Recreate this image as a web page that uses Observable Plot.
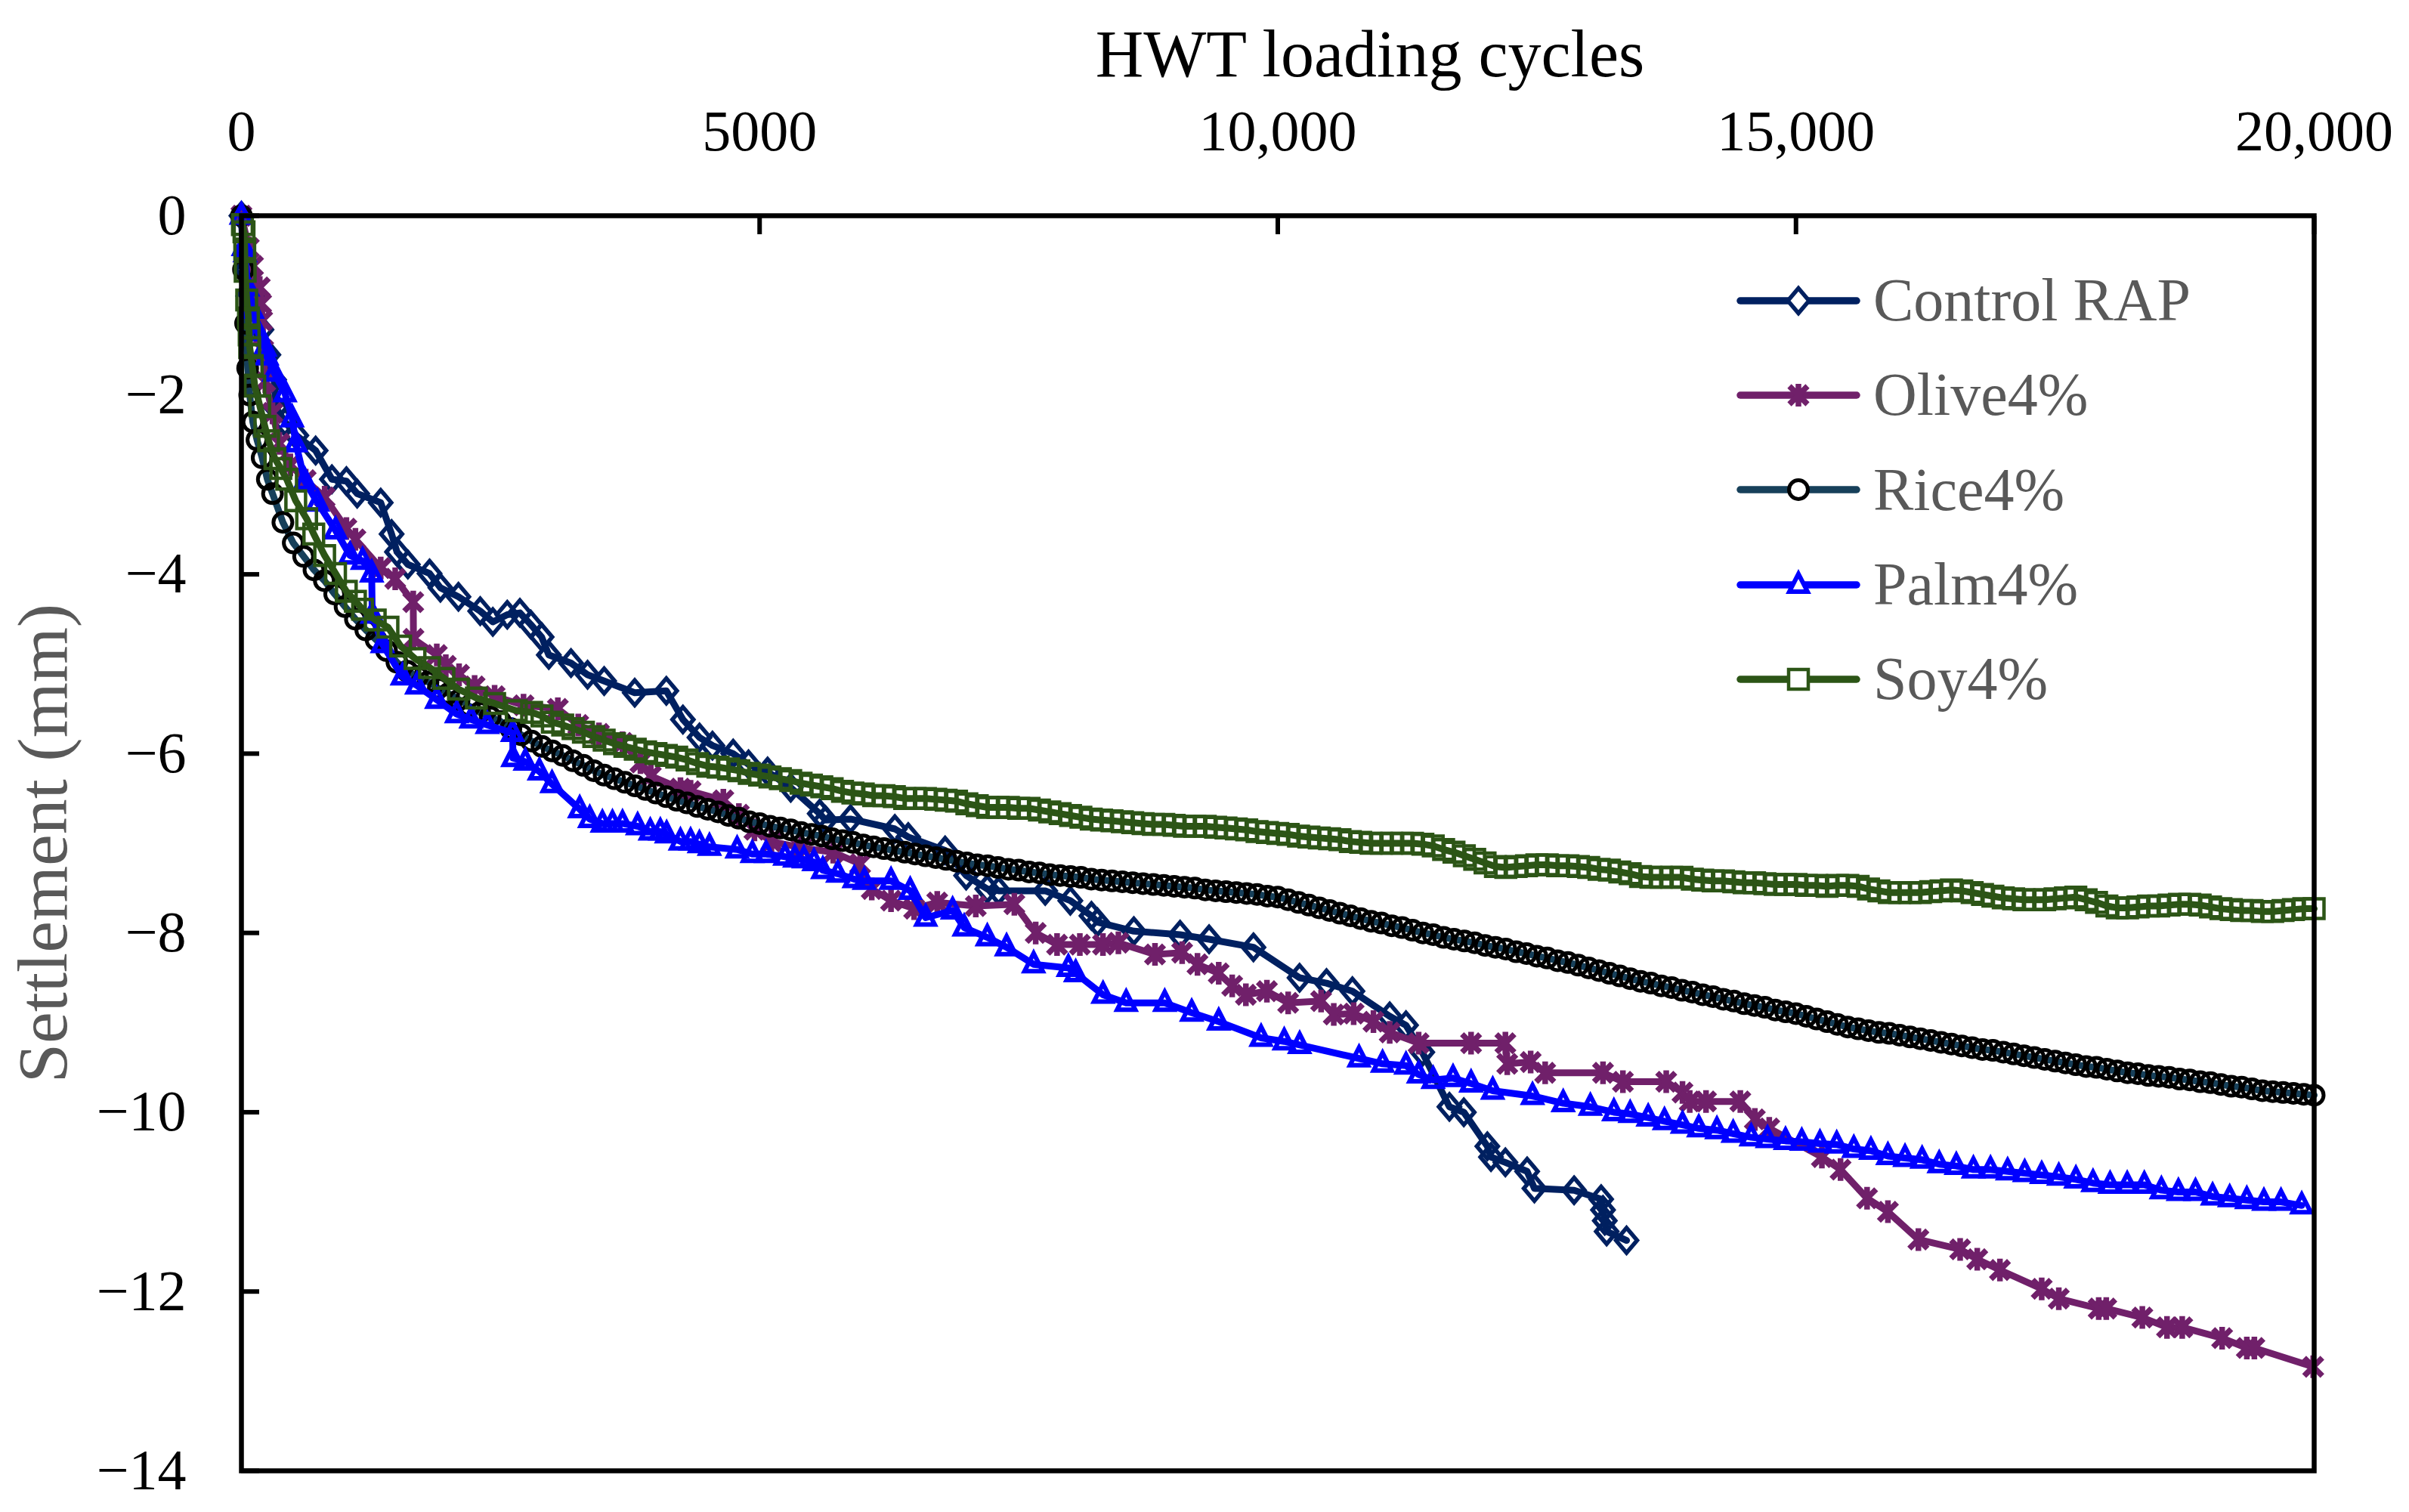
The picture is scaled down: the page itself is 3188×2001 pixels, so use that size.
<!DOCTYPE html>
<html><head><meta charset="utf-8">
<script src="https://cdn.jsdelivr.net/npm/d3@7"></script>
<script src="https://cdn.jsdelivr.net/npm/@observablehq/plot@0.6"></script>
<style>
html,body{margin:0;padding:0;background:#fff;}
#wrap{position:relative;width:3188px;height:2001px;overflow:hidden;}
#legend{position:absolute;left:2299px;top:335px;font-family:'Liberation Serif','DejaVu Serif',serif;font-size:80px;color:#595959;}
.row{display:flex;align-items:center;height:125.3px;}
.row span{margin-left:18px;white-space:nowrap;}
</style></head><body><div id="wrap"></div>
<script>
// ---------- data ----------
const xTickValues = [0, 5000, 10000, 15000, 20000];
const yTickValues = [0, -2, -4, -6, -8, -10, -12, -14];
const xLabel = "HWT loading cycles";
const yLabel = "Settlement (mm)";
const seriesNames = ["Control RAP", "Olive4%", "Rice4%", "Palm4%", "Soy4%"];

const controlCycles = [0,50,100,193,260,315,333,420,530,716,873,1013,1117,1344,1449,1501,1606,1815,1920,2094,2304,2426,2565,2687,2792,2897,2966,3180,3340,3500,3795,4100,4260,4420,4545,4745,4893,5077,5300,5580,5635,5877,6305,6434,6790,6993,7197,7306,7756,7998,8202,8260,8611,9057,9337,9765,10210,10470,10720,11080,11237,11394,11656,11795,12022,12057,12196,12406,12476,12859,13120,13138,13155,13173,13365];
const controlSettlement = [0,-0.6,-0.9,-1.27,-1.55,-1.83,-2.14,-2.3,-2.45,-2.62,-2.94,-2.96,-3.10,-3.20,-3.55,-3.75,-3.89,-3.99,-4.15,-4.25,-4.41,-4.53,-4.45,-4.43,-4.56,-4.70,-4.90,-4.99,-5.12,-5.19,-5.32,-5.30,-5.62,-5.82,-5.91,-6.00,-6.12,-6.20,-6.38,-6.67,-6.74,-6.73,-6.84,-6.93,-7.08,-7.36,-7.51,-7.53,-7.53,-7.64,-7.81,-7.88,-7.98,-8.02,-8.07,-8.16,-8.50,-8.56,-8.65,-8.93,-9.03,-9.33,-9.94,-10.00,-10.38,-10.50,-10.56,-10.66,-10.85,-10.87,-10.97,-11.09,-11.21,-11.33,-11.43];

const oliveCycles = [0,71,112,177,190,200,210,230,300,367,472,620,803,1013,1100,1344,1484,1658,1660,1885,1972,2100,2250,2443,2722,3053,3250,3450,3677,3850,3950,4236,4334,4650,4800,4950,5114,5400,5710,5970,6082,6268,6491,6714,7086,7458,7664,7870,8090,8313,8462,8815,9077,9225,9430,9560,9692,9895,10100,10418,10540,10732,10923,11080,11359,11865,12196,12214,12440,12580,13138,13330,13748,13905,13975,14132,14463,14603,14742,15250,15430,15686,15887,16181,16584,16749,16968,17371,17536,17921,17994,18342,18580,18727,19112,19350,19423,19991];
const oliveSettlement = [0,-0.36,-0.56,-0.80,-0.98,-1.17,-1.5,-1.85,-2.2,-2.54,-2.78,-2.95,-3.14,-3.49,-3.61,-3.93,-4.05,-4.31,-4.72,-4.90,-5.02,-5.12,-5.25,-5.36,-5.46,-5.50,-5.68,-5.78,-5.88,-6.10,-6.25,-6.39,-6.42,-6.52,-6.68,-6.85,-6.98,-7.05,-7.10,-7.23,-7.51,-7.64,-7.73,-7.66,-7.70,-7.68,-8.00,-8.13,-8.13,-8.13,-8.11,-8.24,-8.22,-8.35,-8.45,-8.59,-8.69,-8.65,-8.78,-8.76,-8.91,-8.90,-8.99,-9.11,-9.23,-9.23,-9.23,-9.46,-9.44,-9.56,-9.56,-9.66,-9.66,-9.78,-9.88,-9.88,-9.88,-10.08,-10.18,-10.50,-10.64,-10.96,-11.11,-11.42,-11.53,-11.64,-11.76,-11.97,-12.08,-12.19,-12.19,-12.29,-12.40,-12.40,-12.52,-12.63,-12.63,-12.84];

const riceEarlyCycles = [0,20,40,60,80,110,150,200,250,300];
const riceEarlySettlement = [0,-0.6,-1.2,-1.7,-2.0,-2.3,-2.5,-2.7,-2.94,-3.1];
// readings every 100 cycles from 400 to 20,000
const riceSettlement100 = [
-3.42,-3.65,-3.80,-3.95,-4.07,-4.22,-4.36,-4.50,-4.62,-4.73,
-4.85,-4.98,-5.08,-5.14,-5.20,-5.27,-5.33,-5.40,-5.47,-5.54,
-5.59,-5.64,-5.72,-5.79,-5.86,-5.92,-5.97,-6.02,-6.08,-6.13,
-6.19,-6.24,-6.28,-6.32,-6.36,-6.40,-6.44,-6.48,-6.52,-6.55,
-6.59,-6.62,-6.65,-6.69,-6.72,-6.76,-6.78,-6.81,-6.83,-6.85,
-6.88,-6.90,-6.92,-6.95,-6.97,-6.99,-7.02,-7.04,-7.06,-7.08,
-7.10,-7.12,-7.14,-7.16,-7.18,-7.20,-7.22,-7.24,-7.25,-7.27,
-7.29,-7.30,-7.32,-7.33,-7.35,-7.36,-7.37,-7.38,-7.40,-7.41,
-7.42,-7.43,-7.44,-7.45,-7.46,-7.47,-7.48,-7.49,-7.50,-7.52,
-7.53,-7.54,-7.55,-7.56,-7.57,-7.59,-7.60,-7.63,-7.66,-7.69,
-7.72,-7.75,-7.78,-7.81,-7.84,-7.87,-7.89,-7.92,-7.94,-7.97,
-8.00,-8.02,-8.05,-8.07,-8.09,-8.11,-8.14,-8.16,-8.18,-8.21,
-8.23,-8.26,-8.28,-8.31,-8.33,-8.36,-8.39,-8.42,-8.45,-8.48,
-8.51,-8.54,-8.56,-8.59,-8.61,-8.64,-8.66,-8.69,-8.71,-8.74,
-8.76,-8.79,-8.81,-8.83,-8.86,-8.88,-8.90,-8.93,-8.96,-8.99,
-9.02,-9.05,-9.07,-9.09,-9.11,-9.12,-9.14,-9.16,-9.18,-9.20,
-9.22,-9.24,-9.26,-9.28,-9.30,-9.31,-9.33,-9.35,-9.37,-9.39,
-9.41,-9.43,-9.45,-9.47,-9.49,-9.50,-9.52,-9.54,-9.56,-9.57,
-9.59,-9.60,-9.61,-9.63,-9.64,-9.66,-9.67,-9.69,-9.71,-9.72,
-9.74,-9.76,-9.77,-9.78,-9.79,-9.80,-9.81];

const palmCycles = [0,20,36,60,104,160,226,245,315,420,489,525,612,734,908,1048,1169,1257,1262,1361,1553,1693,1885,2077,2216,2373,2617,2620,2739,2875,2997,3264,3361,3483,3580,3677,3823,3945,4042,4103,4236,4334,4419,4516,4783,4929,5062,5245,5340,5427,5525,5610,5755,5913,6011,6268,6453,6602,6862,6974,7197,7383,7644,7979,8050,8314,8537,8909,9169,9430,9839,10062,10211,10784,11011,11237,11359,11499,11691,11865,12074,12458,12754,13016,13243,13400,13574,13731,13905,14062,14237,14394,14568,14725,14899,15056,15231,15393,15558,15723,15887,16052,16217,16382,16547,16712,16877,17042,17207,17371,17536,17701,17866,18031,18196,18361,18526,18690,18855,19020,19185,19350,19515,19680,19880];
const palmSettlement = [0,-0.35,-0.42,-0.8,-1.05,-1.3,-1.47,-1.57,-1.75,-1.98,-2.26,-2.54,-2.96,-3.20,-3.51,-3.79,-3.85,-3.99,-4.45,-4.78,-5.14,-5.24,-5.40,-5.56,-5.62,-5.68,-5.77,-6.05,-6.09,-6.20,-6.34,-6.62,-6.73,-6.78,-6.78,-6.78,-6.81,-6.87,-6.87,-6.90,-6.98,-6.98,-7.01,-7.04,-7.07,-7.12,-7.12,-7.15,-7.17,-7.18,-7.21,-7.30,-7.34,-7.40,-7.42,-7.42,-7.53,-7.83,-7.75,-7.94,-8.05,-8.16,-8.35,-8.39,-8.45,-8.69,-8.78,-8.78,-8.89,-8.99,-9.17,-9.21,-9.25,-9.40,-9.46,-9.48,-9.58,-9.64,-9.62,-9.68,-9.76,-9.82,-9.90,-9.94,-10.00,-10.02,-10.06,-10.10,-10.14,-10.18,-10.20,-10.24,-10.28,-10.30,-10.32,-10.33,-10.35,-10.36,-10.41,-10.43,-10.49,-10.51,-10.53,-10.58,-10.60,-10.64,-10.64,-10.66,-10.68,-10.70,-10.72,-10.75,-10.79,-10.81,-10.81,-10.81,-10.87,-10.89,-10.89,-10.94,-10.96,-10.98,-11.00,-11.00,-11.04];

const soyEarlyCycles = [10,25,32,36,51,68,75,80,104,129,177,226,262,323,380,437,524,629,698,803,908,1012,1100,1169,1291,1414,1536,1675,1815,1954,2094,2267,2443,2652];
const soyEarlySettlement = [-0.1,-0.18,-0.37,-0.62,-0.94,-1.14,-1.33,-1.47,-1.67,-1.90,-2.12,-2.35,-2.51,-2.71,-2.82,-2.94,-3.18,-3.38,-3.55,-3.79,-3.99,-4.19,-4.30,-4.39,-4.51,-4.59,-4.80,-4.94,-5.04,-5.16,-5.28,-5.38,-5.44,-5.52];
// readings every 100 cycles from 2800 to 20,000
const soySettlement100 = [
-5.54,-5.58,-5.65,-5.68,-5.72,-5.76,-5.81,-5.85,-5.89,-5.92,
-5.95,-5.98,-6.00,-6.02,-6.04,-6.07,-6.11,-6.14,-6.15,-6.17,
-6.19,-6.22,-6.24,-6.26,-6.28,-6.30,-6.33,-6.35,-6.37,-6.39,
-6.42,-6.44,-6.45,-6.47,-6.47,-6.48,-6.50,-6.50,-6.50,-6.51,
-6.52,-6.53,-6.56,-6.58,-6.60,-6.60,-6.60,-6.61,-6.61,-6.63,
-6.65,-6.67,-6.69,-6.71,-6.73,-6.74,-6.75,-6.76,-6.77,-6.78,
-6.79,-6.79,-6.80,-6.81,-6.81,-6.81,-6.82,-6.83,-6.84,-6.85,
-6.87,-6.88,-6.89,-6.90,-6.92,-6.93,-6.94,-6.95,-6.96,-6.98,
-6.99,-7.00,-7.00,-7.00,-7.00,-7.00,-7.01,-7.03,-7.07,-7.10,
-7.14,-7.18,-7.22,-7.26,-7.27,-7.26,-7.25,-7.24,-7.24,-7.25,
-7.25,-7.26,-7.27,-7.29,-7.30,-7.32,-7.34,-7.37,-7.38,-7.38,
-7.38,-7.38,-7.40,-7.41,-7.42,-7.42,-7.43,-7.44,-7.44,-7.45,
-7.46,-7.46,-7.46,-7.47,-7.47,-7.48,-7.47,-7.47,-7.48,-7.51,
-7.53,-7.55,-7.55,-7.55,-7.55,-7.54,-7.53,-7.52,-7.53,-7.55,
-7.57,-7.59,-7.61,-7.62,-7.63,-7.63,-7.63,-7.62,-7.61,-7.60,
-7.63,-7.66,-7.70,-7.72,-7.72,-7.71,-7.70,-7.70,-7.69,-7.68,
-7.68,-7.69,-7.71,-7.73,-7.74,-7.75,-7.75,-7.76,-7.76,-7.75,
-7.74,-7.73,-7.73];

// ---------- build tables ----------
const riceCycles = [...riceEarlyCycles, ...d3.range(400, 20001, 100)];
const riceSettlement = [...riceEarlySettlement, ...riceSettlement100];
const soyCycles = [...soyEarlyCycles, ...d3.range(2800, 20001, 100)];
const soySettlement = [...soyEarlySettlement, ...soySettlement100];

const toRows = (cs, ss) => cs.map((c, i) => ({c, s: ss[i]})).filter(d => d.s !== undefined);

// ---------- marker shapes ----------
const symDiamond = {draw(c){c.moveTo(0,-16.5);c.lineTo(14,0);c.lineTo(0,16.5);c.lineTo(-14,0);c.closePath();}};
const symStar = {draw(c){c.moveTo(-12,-12);c.lineTo(12,12);c.moveTo(12,-12);c.lineTo(-12,12);c.moveTo(0,-15);c.lineTo(0,15);}};
const symCircle = {draw(c){c.moveTo(12.5,0);c.arc(0,0,12.5,0,2*Math.PI);c.closePath();}};
const symTriangle = {draw(c){c.moveTo(0,-14.5);c.lineTo(12,9);c.lineTo(-12,9);c.closePath();}};
const symSquare = {draw(c){c.rect(-13,-13,26,26);}};

const series = [
  {name: seriesNames[0], rows: toRows(controlCycles, controlSettlement), line: "#002060", mark: "#002060", sym: symDiamond, sw: 5.5},
  {name: seriesNames[1], rows: toRows(oliveCycles, oliveSettlement), line: "#70206A", mark: "#70206A", sym: symStar, sw: 7.5},
  {name: seriesNames[2], rows: toRows(riceCycles, riceSettlement), line: "#17405A", mark: "#000000", sym: symCircle, sw: 5},
  {name: seriesNames[3], rows: toRows(palmCycles, palmSettlement), line: "#0000FF", mark: "#0000FF", sym: symTriangle, sw: 6},
  {name: seriesNames[4], rows: toRows(soyCycles, soySettlement), line: "#2C5516", mark: "#2C5516", sym: symSquare, sw: 4.5}
];

const fam = "'Liberation Serif','DejaVu Serif',serif";
const fmtX = d => d >= 10000 ? d3.format(",")(d) : String(d);

const seriesMarks = series.flatMap(s => [
  Plot.line(s.rows, {x: "c", y: "s", stroke: s.line, strokeWidth: 9}),
  Plot.dot(s.rows, {x: "c", y: "s", symbol: s.sym, stroke: s.mark, strokeWidth: s.sw, fill: "none"})
]);

const chart = Plot.plot({
  width: 3188, height: 2001,
  marginLeft: 319, marginRight: 126, marginTop: 285, marginBottom: 55,
  x: {domain: [0, 20000]},
  y: {domain: [-14, 0]},
  style: {fontFamily: fam, background: "white", color: "black", fontSize: "76px", overflow: "visible"},
  marks: [
    Plot.axisX({anchor: "top", ticks: xTickValues, tickSize: 0, tickPadding: 87, tickFormat: fmtX, fontSize: 76, label: null}),
    Plot.axisX({anchor: "top", ticks: xTickValues, tickSize: 24, dy: 24, tickFormat: () => "", label: null, strokeWidth: 6}),
    Plot.axisY({anchor: "left", ticks: yTickValues, tickSize: 0, tickPadding: 73, fontSize: 76, label: null}),
    Plot.axisY({anchor: "left", ticks: yTickValues, tickSize: 24, dx: 24, tickFormat: () => "", label: null, strokeWidth: 6}),
    ...seriesMarks,
    Plot.frame({stroke: "black", strokeWidth: 6.5}),
    Plot.text([xLabel], {text: d => d, frameAnchor: "top", lineAnchor: "middle", textAnchor: "middle", dx: 122, dy: -213, fontSize: 88, fill: "black"}),
    Plot.text([yLabel], {text: d => d, frameAnchor: "left", lineAnchor: "middle", textAnchor: "middle", dx: -262, rotate: -90, fontSize: 94, fill: "#595959"})
  ]
});

const wrap = document.getElementById("wrap");
wrap.appendChild(chart);

// ---------- legend ----------
const legend = document.createElement("div");
legend.id = "legend";
for (const s of series) {
  const row = document.createElement("div");
  row.className = "row";
  const d = d3.symbol(s.sym)();
  row.innerHTML = `<svg width="162" height="60" style="overflow:visible"><line x1="4" x2="158" y1="30" y2="30" stroke="${s.line}" stroke-width="9.5" stroke-linecap="round"/><path transform="translate(81,30)" d="${d}" fill="white" stroke="${s.mark}" stroke-width="${s.sw}"/></svg><span>${s.name}</span>`;
  legend.appendChild(row);
}
wrap.appendChild(legend);
</script></body></html>
